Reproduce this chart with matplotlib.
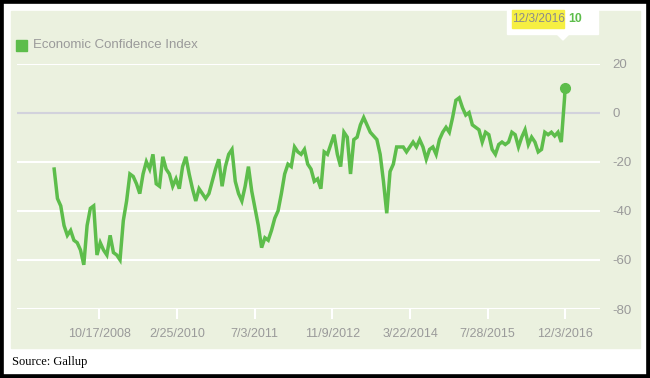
import matplotlib
matplotlib.use('Agg')
import matplotlib.pyplot as plt
import pandas as pd
from matplotlib.patches import Rectangle, Polygon

plt.rcParams['font.family'] = ['Liberation Sans', 'DejaVu Sans']

# Gallup Economic Confidence Index, every 3 weeks
start_date = '2008-01-02'
step = '21D'
eci_values = [
    -23, -35, -38, -46, -50, -48, -52, -53, -56, -62,
    -46, -39, -38, -58, -53, -56, -58, -50, -57, -58,
    -60, -44, -36, -25, -26, -29, -33, -25, -20, -23,
    -17, -29, -30, -18, -23, -25, -30, -27, -31, -22,
    -18, -25, -31, -36, -31, -33, -35, -33, -28, -23,
    -19, -30, -22, -17, -15, -28, -33, -36, -30, -22,
    -32, -39, -46, -55, -51, -52, -48, -43, -40, -33,
    -25, -21, -22, -14, -16, -17, -15, -21, -23, -28,
    -27, -31, -16, -17, -13, -9, -17, -22, -8, -10,
    -25, -11, -10, -5, -2, -5, -8, -9.5, -11, -17,
    -28, -41, -24, -21, -14, -14, -14, -16, -14, -12,
    -14, -11, -14, -19, -15, -14, -17, -11, -8, -6,
    -8, -2, 5, 6, 2, -1, 0, -5, -6, -7,
    -12, -8, -9, -15, -17, -13, -12, -13, -12, -8,
    -9, -14, -10, -7, -13, -10, -12, -16, -15, -8,
    -9, -8, -9.5, -8, -12, 6,
]
last_date = '2016-12-03'
last_value = 10

tick_dates = ['2008-10-17', '2010-02-25', '2011-07-03', '2012-11-09',
              '2014-03-22', '2015-07-28', '2016-12-03']
y_ticks = [20, 0, -20, -40, -60, -80]

GREEN = '#5dbd4b'
BG = '#ebf1df'
GREY = '#9a9a9a'

W, H = 650, 378


def px(x0, y0, w, h):
    # pixel box (from top-left) -> figure fraction
    return [x0 / W, 1 - (y0 + h) / H, w / W, h / H]


def fig_rect(fig, x0, y0, w, h, **kw):
    l, b, fw, fh = px(x0, y0, w, h)
    fig.add_artist(Rectangle((l, b), fw, fh, transform=fig.transFigure, **kw))


def fmt(d):
    return f'{d.month}/{d.day}/{d.year}'


def main():
    dates = pd.date_range(start_date, periods=len(eci_values), freq=step)
    dates = dates.append(pd.DatetimeIndex([last_date]))
    values = eci_values + [last_value]

    fig = plt.figure(figsize=(W / 100, H / 100), dpi=100)
    fig.patch.set_facecolor('white')

    # green panel and black frame
    fig_rect(fig, 11, 11, 629, 337, color=BG, zorder=0)
    fig.add_artist(Rectangle((0, 0), 1, 1, transform=fig.transFigure, fill=False,
                             edgecolor='black', lw=5.5, zorder=10))

    ax = fig.add_axes(px(17, 63.5, 583, 245.5))
    ax.set_facecolor('none')
    for s in ax.spines.values():
        s.set_visible(False)

    for y in y_ticks:
        ax.axhline(y, color='#d2d2dc' if y == 0 else 'white', lw=1.5, zorder=1)

    ax.plot(dates, values, color=GREEN, lw=2.5, zorder=3,
            solid_joinstyle='miter')
    ax.plot(pd.Timestamp(last_date), last_value, 'o', ms=7, color=GREEN,
            zorder=4, clip_on=False)

    ax.set_xlim(pd.Timestamp('2007-05-10'), pd.Timestamp('2017-07-14'))
    ax.set_ylim(-80, 20)

    tds = pd.to_datetime(tick_dates)
    ax.set_xticks(tds)
    ax.set_xticklabels([fmt(d) for d in tds])
    ax.tick_params(axis='x', length=7, width=1.5, color='white',
                   labelcolor=GREY, labelsize=9, pad=7)

    ax.yaxis.tick_right()
    ax.set_yticks(y_ticks)
    ax.set_yticklabels([str(v) for v in y_ticks])
    ax.tick_params(axis='y', length=0, pad=9, labelcolor=GREY, labelsize=9.5)

    # legend
    fig_rect(fig, 16, 40, 11, 11, color=GREEN)
    fig.text(33 / W, 1 - 45.5 / H, 'Economic Confidence Index', color=GREY,
             fontsize=9.5, va='center')

    # tooltip
    fig_rect(fig, 507, 5, 91, 29, color='white', zorder=5)
    fig.add_artist(Polygon([(557 / W, 1 - 34 / H), (563 / W, 1 - 40 / H),
                            (569 / W, 1 - 34 / H)], closed=True,
                           transform=fig.transFigure, color='white', zorder=5))
    fig_rect(fig, 512, 10, 52, 18, color='#f6ef42', zorder=6)
    fig.text(538 / W, 1 - 19.5 / H, fmt(pd.Timestamp(last_date)),
             color='#8a8a8a', fontsize=8.6, ha='center', va='center', zorder=7)
    fig.text(568 / W, 1 - 19.5 / H, str(last_value), color=GREEN, fontsize=8.8,
             fontweight='bold', va='center', zorder=7)

    fig.text(12 / W, 1 - 362 / H, 'Source: Gallup', family='Liberation Serif',
             fontsize=9, va='center', color='black')

    fig.savefig('out.png', dpi=100)


if __name__ == '__main__':
    main()
